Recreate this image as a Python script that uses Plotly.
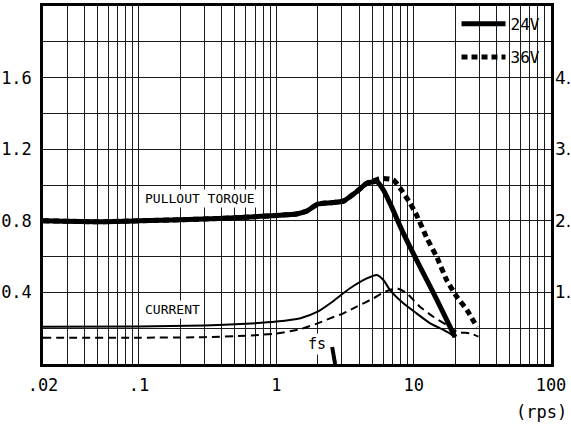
import math
import plotly.graph_objects as go

# ---------------- data ----------------
torque24_x = [0.02, 0.05, 0.1, 0.3, 0.6, 1.0, 1.4, 1.67, 2.0, 2.5, 3.08, 3.85, 4.56, 5.39, 6.02, 6.73, 8.42, 10.5, 13.2, 16.5, 20.0]
torque24_y = [0.80, 0.795, 0.80, 0.81, 0.82, 0.83, 0.838, 0.855, 0.893, 0.901, 0.910, 0.963, 1.010, 1.019, 0.972, 0.897, 0.730, 0.581, 0.432, 0.283, 0.15]

torque36_x = [0.02, 0.05, 0.1, 0.3, 0.6, 1.0, 1.4, 1.67, 2.0, 2.5, 3.08, 3.85, 4.56, 5.39, 6.02, 7.12, 8.0, 9.42, 10.5, 12.5, 14.7, 17.4, 20.6, 24.4, 29.0]
torque36_y = [0.80, 0.795, 0.80, 0.81, 0.82, 0.83, 0.838, 0.855, 0.893, 0.901, 0.910, 0.963, 1.010, 1.030, 1.037, 1.028, 0.980, 0.898, 0.832, 0.702, 0.599, 0.469, 0.376, 0.302, 0.205]

current24_x = [0.02, 0.1, 0.3, 0.6, 1.0, 1.5, 2.0, 2.46, 3.44, 4.56, 5.39, 6.02, 6.73, 8.42, 10.5, 13.2, 16.5, 20.0]
current24_y = [0.208, 0.21, 0.215, 0.225, 0.237, 0.256, 0.292, 0.338, 0.423, 0.478, 0.497, 0.469, 0.413, 0.339, 0.283, 0.227, 0.190, 0.152]

current36_x = [0.02, 0.1, 0.3, 0.6, 1.0, 1.5, 2.0, 2.46, 3.08, 3.85, 5.09, 6.19, 7.54, 8.91, 11.1, 13.9, 17.4, 20.6, 25.8, 29.6]
current36_y = [0.147, 0.147, 0.150, 0.158, 0.170, 0.195, 0.227, 0.255, 0.283, 0.320, 0.367, 0.404, 0.423, 0.395, 0.320, 0.264, 0.218, 0.180, 0.171, 0.153]

fs_marker_x = [2.55, 2.68]
fs_marker_y = [0.095, 0.0]

x_tickvals = [0.02, 0.03, 0.04, 0.05, 0.06, 0.07, 0.08, 0.09,
              0.1, 0.2, 0.3, 0.4, 0.5, 0.6, 0.7, 0.8, 0.9,
              1, 2, 3, 4, 5, 6, 7, 8, 9,
              10, 20, 30, 40, 50, 60, 70, 80, 90, 100]
x_labels = {0.02: ".02", 0.1: ".1", 1: "1", 10: "10", 100: "100"}
x_ticktext = [x_labels.get(v, "") for v in x_tickvals]

y_tickvals = [0, 0.2, 0.4, 0.6, 0.8, 1.0, 1.2, 1.4, 1.6, 1.8, 2.0]
y_labels = {0.4: "0.4", 0.8: "0.8", 1.2: "1.2", 1.6: "1.6"}
y_ticktext = [y_labels.get(v, "") for v in y_tickvals]

y2_tickvals = [1, 2, 3, 4]
y2_ticktext = ["1.", "2.", "3.", "4."]

FONT = "DejaVu Sans Mono, Liberation Mono, monospace"
FONT2 = "DejaVu Sans, Liberation Sans, sans-serif"

fig = go.Figure()

fig.add_trace(go.Scatter(x=current24_x, y=current24_y, mode="lines", showlegend=False,
                         line=dict(color="black", width=2, shape="spline", smoothing=0.6)))
fig.add_trace(go.Scatter(x=current36_x, y=current36_y, mode="lines", showlegend=False,
                         line=dict(color="black", width=2, dash="8px,5px", shape="spline", smoothing=0.6)))
fig.add_trace(go.Scatter(x=torque36_x, y=torque36_y, mode="lines", name="36V", legend="legend2",
                         line=dict(color="black", width=5, dash="6px,4px", shape="spline", smoothing=0.5)))
fig.add_trace(go.Scatter(x=torque24_x, y=torque24_y, mode="lines", name="24V", legend="legend",
                         line=dict(color="black", width=5, shape="spline", smoothing=0.5)))
fig.add_trace(go.Scatter(x=fs_marker_x, y=fs_marker_y, mode="lines", showlegend=False,
                         line=dict(color="black", width=4), cliponaxis=False))
# invisible trace to activate the right axis
fig.add_trace(go.Scatter(x=[1], y=[0], yaxis="y2", mode="markers", showlegend=False,
                         marker=dict(opacity=0), hoverinfo="skip"))

legend_common = dict(xanchor="left", yanchor="middle", bgcolor="rgba(0,0,0,0)",
                     font=dict(family=FONT, size=16), itemwidth=44)

fig.update_layout(
    template="none",
    width=571, height=428,
    margin=dict(l=43, r=20, t=6, b=64),
    paper_bgcolor="white", plot_bgcolor="white",
    font=dict(family=FONT, size=17, color="black"),
    xaxis=dict(type="log", range=[math.log10(0.02), 2], tickvals=x_tickvals, ticktext=x_ticktext,
               showgrid=True, gridcolor="#1a1a1a", gridwidth=1.2,
               showline=True, linecolor="black", linewidth=2.5, mirror=True,
               ticks="", ticklabelstandoff=4, zeroline=False,
               tickfont=dict(family=FONT, size=17)),
    yaxis=dict(range=[0, 2.0], tickvals=y_tickvals, ticktext=y_ticktext,
               showgrid=True, gridcolor="#1a1a1a", gridwidth=1.2,
               showline=True, linecolor="black", linewidth=2.5, mirror=True,
               ticks="", ticklabelstandoff=5, zeroline=False,
               tickfont=dict(family=FONT, size=17)),
    yaxis2=dict(range=[0, 5], overlaying="y", side="right", tickvals=y2_tickvals, ticktext=y2_ticktext,
                showgrid=False, showline=False, zeroline=False, ticks="", ticklabelstandoff=3,
                tickfont=dict(family=FONT2, size=17)),
    legend=dict(x=0.814, y=0.950, **legend_common),
    legend2=dict(x=0.814, y=0.857, **legend_common),
    annotations=[
        dict(x=math.log10(0.278), y=0.922, xref="x", yref="y", text="PULLOUT TORQUE", showarrow=False,
             bgcolor="white", font=dict(family=FONT, size=13)),
        dict(x=math.log10(0.175), y=0.302, xref="x", yref="y", text="CURRENT", showarrow=False,
             bgcolor="white", font=dict(family=FONT, size=13)),
        dict(x=math.log10(1.98), y=0.112, xref="x", yref="y", text="fs", showarrow=False,
             bgcolor="white", font=dict(family=FONT, size=15)),
        dict(x=1.035, y=-0.134, xref="paper", yref="paper", text="(rps)", showarrow=False,
             xanchor="right", yanchor="middle", font=dict(family=FONT, size=17)),
    ],
)

fig.write_html("out.html", config={"displayModeBar": False},
               post_script="document.body.style.margin='0';document.body.style.overflow='hidden';")
